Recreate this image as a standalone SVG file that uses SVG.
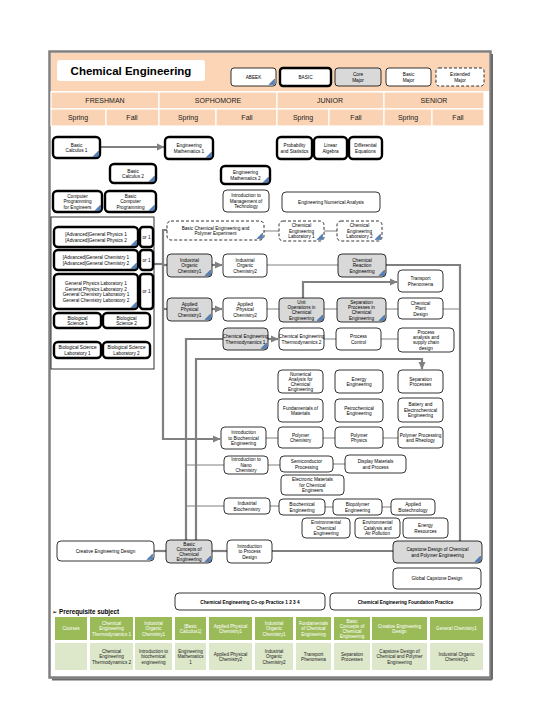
<svg xmlns="http://www.w3.org/2000/svg" width="540" height="720" viewBox="0 0 540 720">
<defs>
<style>
.b{fill:#fff;stroke:#000;stroke-width:2.4}
.n{fill:#fff;stroke:#000;stroke-width:0.8}
.c{fill:#D9D9D9;stroke:#000;stroke-width:0.8}
.e{fill:#fff;stroke:#000;stroke-width:0.8;stroke-dasharray:3 2}
.tri{fill:#4F81BD;stroke:#1F3F6F;stroke-width:0.4}
.t{font-family:"Liberation Sans",Arial,sans-serif;font-size:4.7px;text-anchor:middle;fill:#000}
.s{font-family:"Liberation Sans",Arial,sans-serif;font-size:7px;text-anchor:middle;fill:#222}
.tw{font-family:"Liberation Sans",Arial,sans-serif;font-size:4.6px;text-anchor:middle;fill:#fff}
.tk{font-family:"Liberation Sans",Arial,sans-serif;font-size:4.6px;text-anchor:middle;fill:#222}
.hc{fill:#FAD3B4;stroke:#fff;stroke-width:1.2}
.g1{fill:#9BBB59}
.g2{fill:#DDE7CA}
.thk{fill:none;stroke:#808080;stroke-width:2.2}
.thn{fill:none;stroke:#808080;stroke-width:1}
</style>
<marker id="ar" markerWidth="8" markerHeight="8" refX="7" refY="4" orient="auto" markerUnits="userSpaceOnUse">
<path d="M0,0.5 L7.5,4 L0,7.5 Z" fill="#808080"/>
</marker>
</defs>
<rect x="0" y="0" width="540" height="720" fill="#fff"/>
<!-- frame -->
<rect x="49.5" y="51.5" width="441" height="626" fill="#fff" stroke="#808080" stroke-width="2.5"/>
<line x1="492" y1="54" x2="492" y2="679.5" stroke="#6a6a6a" stroke-width="2"/>
<line x1="52" y1="679.5" x2="492" y2="679.5" stroke="#6a6a6a" stroke-width="2"/>
<!-- header -->
<g id="header">
<rect x="51" y="53" width="438" height="38" fill="#FBD5B5"/>
<rect x="57" y="60" width="148" height="21" rx="3" fill="#fff"/>
<text x="131" y="75" font-family="Liberation Sans, Arial, sans-serif" font-size="11.5" font-weight="bold" text-anchor="middle" fill="#000">Chemical Engineering</text>
<rect class="hc" x="51" y="92" width="108" height="17"/>
<rect class="hc" x="159" y="92" width="118" height="17"/>
<rect class="hc" x="277" y="92" width="107" height="17"/>
<rect class="hc" x="384" y="92" width="100" height="17"/>
<rect class="hc" x="51" y="109" width="55" height="17"/>
<rect class="hc" x="106" y="109" width="53" height="17"/>
<rect class="hc" x="159" y="109" width="57" height="17"/>
<rect class="hc" x="216" y="109" width="61" height="17"/>
<rect class="hc" x="277" y="109" width="52" height="17"/>
<rect class="hc" x="329" y="109" width="55" height="17"/>
<rect class="hc" x="384" y="109" width="48" height="17"/>
<rect class="hc" x="432" y="109" width="52" height="17"/>
<text class="s" x="105" y="103">FRESHMAN</text>
<text class="s" x="218" y="103">SOPHOMORE</text>
<text class="s" x="330" y="103">JUNIOR</text>
<text class="s" x="434" y="103">SENIOR</text>
<text class="s" x="78" y="120">Spring</text>
<text class="s" x="132" y="120">Fall</text>
<text class="s" x="188" y="120">Spring</text>
<text class="s" x="247" y="120">Fall</text>
<text class="s" x="303" y="120">Spring</text>
<text class="s" x="356" y="120">Fall</text>
<text class="s" x="408" y="120">Spring</text>
<text class="s" x="458" y="120">Fall</text>
</g>
<!-- legend -->
<g id="legend">
<g id="lg-abeek"><rect class="n" x="231" y="68" width="45" height="18" rx="3"/><polygon class="tri" points="274.5,79 274.5,84.5 269,84.5"/><text class="t" x="253.5" y="78.8">ABEEK</text></g>
<g id="lg-basic"><rect class="b" x="280" y="68" width="51" height="18" rx="3"/><text class="t" x="305.5" y="78.8">BASIC</text></g>
<g id="lg-core"><rect class="c" x="335" y="68" width="46" height="18" rx="3"/><text class="t" x="358" y="76"><tspan x="358">Core</tspan><tspan x="358" dy="5.6">Major</tspan></text></g>
<g id="lg-basicmajor"><rect class="n" x="386" y="68" width="45" height="18" rx="3"/><text class="t" x="408.5" y="76"><tspan x="408.5">Basic</tspan><tspan x="408.5" dy="5.6">Major</tspan></text></g>
<g id="lg-ext"><rect class="e" x="436" y="68" width="48" height="18" rx="3"/><text class="t" x="460" y="76"><tspan x="460">Extended</tspan><tspan x="460" dy="5.6">Major</tspan></text></g>
</g>
<!-- connectors -->
<g id="connectors">
<line class="thk" x1="100" y1="147" x2="164" y2="147" marker-end="url(#ar)"/>
<polyline class="thk" points="154,264 163,264"/>
<polyline class="thk" points="167,230 163,230 163,439 220,439" marker-end="url(#ar)"/>
<line class="thk" x1="163" y1="265" x2="167" y2="265"/>
<line class="thk" x1="163" y1="309" x2="167" y2="309"/>
<line class="thk" x1="212" y1="265" x2="222" y2="265" marker-end="url(#ar)"/>
<line class="thk" x1="212" y1="309" x2="222" y2="309" marker-end="url(#ar)"/>
<line class="thk" x1="268" y1="339" x2="278" y2="339" marker-end="url(#ar)"/>
<line class="thn" x1="264" y1="231" x2="279" y2="231"/>
<line class="thn" x1="324" y1="231" x2="337" y2="231"/>
<line class="thn" x1="267" y1="265" x2="338" y2="265"/>
<polyline class="thk" points="386,265 460,265 460,541"/>
<line class="thn" x1="267" y1="309" x2="279" y2="309"/>
<line class="thn" x1="324" y1="309" x2="337" y2="309"/>
<line class="thn" x1="386" y1="309" x2="398" y2="309"/>
<line class="thn" x1="443" y1="309" x2="460" y2="309"/>
<polyline class="thk" points="303,298 303,282 397,282" marker-end="url(#ar)"/>
<line class="thn" x1="324" y1="339" x2="336" y2="339"/>
<line class="thn" x1="381" y1="339" x2="398" y2="339"/>
<polyline class="thk" points="223,339 186,339 186,540"/>
<polyline class="thk" points="196,540 196,359 422,359 422,369" marker-end="url(#ar)"/>
<line class="thn" x1="186" y1="465" x2="224" y2="465"/>
<line class="thn" x1="186" y1="506" x2="224" y2="506"/>
<line class="thn" x1="266" y1="438" x2="278" y2="438"/>
<line class="thn" x1="323" y1="438" x2="335" y2="438"/>
<line class="thn" x1="383" y1="438" x2="398" y2="438"/>
<line class="thn" x1="268" y1="465" x2="280" y2="465"/>
<line class="thn" x1="333" y1="464" x2="345" y2="464"/>
<line class="thn" x1="270" y1="506" x2="279" y2="506"/>
<line class="thn" x1="325" y1="507" x2="333" y2="507"/>
<line class="thn" x1="382" y1="507" x2="391" y2="507"/>
<line class="thk" x1="154" y1="551" x2="166" y2="551"/>
<line class="thk" x1="212" y1="551" x2="227" y2="551"/>
<line class="thk" x1="272" y1="551" x2="393" y2="551"/>
</g>
<!-- nodes -->
<g id="calc1"><rect class="b" x="53" y="137" width="47" height="21" rx="4"/><polygon class="tri" points="98.5,151 98.5,156.5 93,156.5"/><text class="t" x="76.5" y="146.5"><tspan x="76.5">Basic</tspan><tspan x="76.5" dy="5.6">Calculus 1</tspan></text></g>
<g id="math1"><rect class="b" x="165" y="137" width="48" height="22" rx="4"/><polygon class="tri" points="211.5,152 211.5,157.5 206,157.5"/><text class="t" x="189" y="147"><tspan x="189">Engineering</tspan><tspan x="189" dy="5.6">Mathematics 1</tspan></text></g>
<g id="calc2"><rect class="b" x="110" y="164" width="46" height="19" rx="4"/><polygon class="tri" points="154.5,176 154.5,181.5 149,181.5"/><text class="t" x="133" y="172.5"><tspan x="133">Basic</tspan><tspan x="133" dy="5.6">Calculus 2</tspan></text></g>
<g id="math2"><rect class="b" x="221" y="166" width="49" height="18" rx="4"/><polygon class="tri" points="268.5,177 268.5,182.5 263,182.5"/><text class="t" x="245.5" y="174"><tspan x="245.5">Engineering</tspan><tspan x="245.5" dy="5.6">Mathematics 2</tspan></text></g>
<g id="prog"><rect class="b" x="53" y="191" width="49" height="21" rx="4"/><polygon class="tri" points="100.5,205 100.5,210.5 95,210.5"/><text class="t" x="77.5" y="197.7"><tspan x="77.5">Computer</tspan><tspan x="77.5" dy="5.6">Programming</tspan><tspan x="77.5" dy="5.6">for Engineers</tspan></text></g>
<g id="prog2"><rect class="b" x="105" y="191" width="51" height="21" rx="4"/><polygon class="tri" points="154.5,205 154.5,210.5 149,210.5"/><text class="t" x="130.5" y="197.7"><tspan x="130.5">Basic</tspan><tspan x="130.5" dy="5.6">Computer</tspan><tspan x="130.5" dy="5.6">Programming</tspan></text></g>
<g id="mot"><rect class="n" x="223" y="190" width="46" height="22" rx="4"/><text class="t" x="246" y="197.2"><tspan x="246">Introduction to</tspan><tspan x="246" dy="5.6">Management of</tspan><tspan x="246" dy="5.6">Technology</tspan></text></g>
<g id="prob"><rect class="b" x="277" y="137" width="35" height="22" rx="4"/><text class="t" x="294.5" y="147" font-size="4.3"><tspan x="294.5">Probability</tspan><tspan x="294.5" dy="5.6">and Statistics</tspan></text></g>
<g id="linalg"><rect class="b" x="314" y="137" width="33" height="22" rx="4"/><text class="t" x="330.5" y="147" font-size="4.3"><tspan x="330.5">Linear</tspan><tspan x="330.5" dy="5.6">Algebra</tspan></text></g>
<g id="diffeq"><rect class="b" x="349" y="137" width="33" height="22" rx="4"/><text class="t" x="365.5" y="147" font-size="4.3"><tspan x="365.5">Differential</tspan><tspan x="365.5" dy="5.6">Equations</tspan></text></g>
<g id="ena"><rect class="n" x="282" y="192" width="98" height="20" rx="4"/><text class="t" x="331" y="203.8">Engineering Numerical Analysis</text></g>
<g id="basics"><rect x="51" y="217" width="103" height="152" fill="#fff" stroke="#000" stroke-width="0.8"/></g>
<g id="phys"><rect class="b" x="54" y="227" width="84" height="20" rx="4"/><polygon class="tri" points="136.5,240 136.5,245.5 131,245.5"/><text class="t" x="96" y="236"><tspan x="96">[Advanced]General Physics 1</tspan><tspan x="96" dy="5.6">[Advanced]General Physics 2</tspan></text></g>
<g id="or1a"><rect class="b" x="140" y="227" width="13" height="20" rx="3"/><text class="t" x="146.5" y="238.8">or 1</text></g>
<g id="chem"><rect class="b" x="54" y="250" width="84" height="20" rx="4"/><polygon class="tri" points="136.5,263 136.5,268.5 131,268.5"/><text class="t" x="96" y="259"><tspan x="96">[Advanced]General Chemistry 1</tspan><tspan x="96" dy="5.6">[Advanced]General Chemistry 2</tspan></text></g>
<g id="or1b"><rect class="b" x="140" y="250" width="13" height="20" rx="3"/><text class="t" x="146.5" y="261.8">or 1</text></g>
<g id="lab"><rect class="b" x="54" y="274" width="84" height="35" rx="4"/><polygon class="tri" points="136.5,302 136.5,307.5 131,307.5"/><text class="t" x="96" y="284.9"><tspan x="96">General Physics Laboratory 1</tspan><tspan x="96" dy="5.6">General Physics Laboratory 2</tspan><tspan x="96" dy="5.6">General Chemistry Laboratory 1</tspan><tspan x="96" dy="5.6">General Chemistry Laboratory 2</tspan></text></g>
<g id="or1c"><rect class="b" x="140" y="274" width="13" height="35" rx="3"/><text class="t" x="146.5" y="293.3">or 1</text></g>
<g id="bio1"><rect class="b" x="54" y="313" width="47" height="15" rx="4"/><text class="t" x="77.5" y="319.5"><tspan x="77.5">Biological</tspan><tspan x="77.5" dy="5.6">Science 1</tspan></text></g>
<g id="bio2"><rect class="b" x="103" y="313" width="47" height="15" rx="4"/><text class="t" x="126.5" y="319.5"><tspan x="126.5">Biological</tspan><tspan x="126.5" dy="5.6">Science 2</tspan></text></g>
<g id="biolab1"><rect class="b" x="54" y="342" width="47" height="16" rx="4"/><text class="t" x="77.5" y="349"><tspan x="77.5">Biological Science</tspan><tspan x="77.5" dy="5.6">Laboratory 1</tspan></text></g>
<g id="biolab2"><rect class="b" x="103" y="342" width="47" height="16" rx="4"/><text class="t" x="126.5" y="349"><tspan x="126.5">Biological Science</tspan><tspan x="126.5" dy="5.6">Laboratory 2</tspan></text></g>
<g id="bce"><rect class="e" x="167" y="221" width="97" height="19" rx="4"/><polygon class="tri" points="262.5,233 262.5,238.5 257,238.5"/><text class="t" x="215.5" y="229.5"><tspan x="215.5">Basic Chemical Engineering and</tspan><tspan x="215.5" dy="5.6">Polymer Experiment</tspan></text></g>
<g id="lab1"><rect class="e" x="279" y="221" width="45" height="20" rx="4"/><polygon class="tri" points="322.5,234 322.5,239.5 317,239.5"/><text class="t" x="301.5" y="227.2"><tspan x="301.5">Chemical</tspan><tspan x="301.5" dy="5.6">Engineering</tspan><tspan x="301.5" dy="5.6">Laboratory 1</tspan></text></g>
<g id="lab2"><rect class="e" x="337" y="221" width="45" height="20" rx="4"/><polygon class="tri" points="380.5,234 380.5,239.5 375,239.5"/><text class="t" x="359.5" y="227.2"><tspan x="359.5">Chemical</tspan><tspan x="359.5" dy="5.6">Engineering</tspan><tspan x="359.5" dy="5.6">Laboratory 2</tspan></text></g>
<g id="ioc1"><rect class="c" x="167" y="254" width="45" height="23" rx="4"/><polygon class="tri" points="210.5,270 210.5,275.5 205,275.5"/><text class="t" x="189.5" y="261.7"><tspan x="189.5">Industrial</tspan><tspan x="189.5" dy="5.6">Organic</tspan><tspan x="189.5" dy="5.6">Chemistry1</tspan></text></g>
<g id="ioc2"><rect class="n" x="223" y="254" width="44" height="23" rx="4"/><text class="t" x="245" y="261.7"><tspan x="245">Industrial</tspan><tspan x="245" dy="5.6">Organic</tspan><tspan x="245" dy="5.6">Chemistry2</tspan></text></g>
<g id="apc1"><rect class="c" x="167" y="298" width="45" height="23" rx="4"/><polygon class="tri" points="210.5,314 210.5,319.5 205,319.5"/><text class="t" x="189.5" y="305.7"><tspan x="189.5">Applied</tspan><tspan x="189.5" dy="5.6">Physical</tspan><tspan x="189.5" dy="5.6">Chemistry1</tspan></text></g>
<g id="apc2"><rect class="n" x="223" y="298" width="44" height="23" rx="4"/><text class="t" x="245" y="305.7"><tspan x="245">Applied</tspan><tspan x="245" dy="5.6">Physical</tspan><tspan x="245" dy="5.6">Chemistry2</tspan></text></g>
<g id="thermo1"><rect class="c" x="223" y="328" width="45" height="22" rx="4"/><polygon class="tri" points="266.5,343 266.5,348.5 261,348.5"/><text class="t" x="245.5" y="338" font-size="4.3"><tspan x="245.5">Chemical Engineering</tspan><tspan x="245.5" dy="5.6">Thermodynamics 1</tspan></text></g>
<g id="thermo2"><rect class="n" x="279" y="328" width="45" height="22" rx="4"/><text class="t" x="301.5" y="338" font-size="4.3"><tspan x="301.5">Chemical Engineering</tspan><tspan x="301.5" dy="5.6">Thermodynamics 2</tspan></text></g>
<g id="pc"><rect class="n" x="336" y="328" width="45" height="22" rx="4"/><text class="t" x="358.5" y="338"><tspan x="358.5">Process</tspan><tspan x="358.5" dy="5.6">Control</tspan></text></g>
<g id="pasc"><rect class="n" x="398" y="328" width="56" height="24" rx="4"/><text class="t" x="426" y="334.2"><tspan x="426">Process</tspan><tspan x="426" dy="5.1">analysis and</tspan><tspan x="426" dy="5.1">supply chain</tspan><tspan x="426" dy="5.1">design</tspan></text></g>
<g id="cre"><rect class="c" x="338" y="254" width="48" height="23" rx="4"/><polygon class="tri" points="384.5,270 384.5,275.5 379,275.5"/><text class="t" x="362" y="261.7"><tspan x="362">Chemical</tspan><tspan x="362" dy="5.6">Reaction</tspan><tspan x="362" dy="5.6">Engineering</tspan></text></g>
<g id="tp"><rect class="n" x="398" y="270" width="45" height="22" rx="4"/><text class="t" x="420.5" y="280"><tspan x="420.5">Transport</tspan><tspan x="420.5" dy="5.6">Phenomena</tspan></text></g>
<g id="uo"><rect class="c" x="279" y="298" width="45" height="24" rx="4"/><polygon class="tri" points="322.5,315 322.5,320.5 317,320.5"/><text class="t" x="301.5" y="304.2"><tspan x="301.5">Unit</tspan><tspan x="301.5" dy="5.1">Operations in</tspan><tspan x="301.5" dy="5.1">Chemical</tspan><tspan x="301.5" dy="5.1">Engineering</tspan></text></g>
<g id="sp"><rect class="c" x="337" y="298" width="49" height="24" rx="4"/><polygon class="tri" points="384.5,315 384.5,320.5 379,320.5"/><text class="t" x="361.5" y="304.2"><tspan x="361.5">Separation</tspan><tspan x="361.5" dy="5.1">Processes in</tspan><tspan x="361.5" dy="5.1">Chemical</tspan><tspan x="361.5" dy="5.1">Engineering</tspan></text></g>
<g id="cpd"><rect class="n" x="398" y="298" width="45" height="21" rx="4"/><text class="t" x="420.5" y="304.7"><tspan x="420.5">Chemical</tspan><tspan x="420.5" dy="5.6">Plant</tspan><tspan x="420.5" dy="5.6">Design</tspan></text></g>
<g id="nace"><rect class="n" x="278" y="370" width="45" height="23" rx="4"/><text class="t" x="300.5" y="375.7"><tspan x="300.5">Numerical</tspan><tspan x="300.5" dy="5.1">Analysis for</tspan><tspan x="300.5" dy="5.1">Chemical</tspan><tspan x="300.5" dy="5.1">Engineering</tspan></text></g>
<g id="ee"><rect class="n" x="335" y="370" width="48" height="23" rx="4"/><text class="t" x="359" y="380.5"><tspan x="359">Energy</tspan><tspan x="359" dy="5.6">Engineering</tspan></text></g>
<g id="sep"><rect class="n" x="398" y="370" width="45" height="23" rx="4"/><text class="t" x="420.5" y="380.5"><tspan x="420.5">Separation</tspan><tspan x="420.5" dy="5.6">Processes</tspan></text></g>
<g id="mat"><rect class="n" x="278" y="399" width="45" height="23" rx="4"/><text class="t" x="300.5" y="409.5"><tspan x="300.5">Fundamentals of</tspan><tspan x="300.5" dy="5.6">Materials</tspan></text></g>
<g id="petro"><rect class="n" x="335" y="399" width="48" height="23" rx="4"/><text class="t" x="359" y="409.5"><tspan x="359">Petrochemical</tspan><tspan x="359" dy="5.6">Engineering</tspan></text></g>
<g id="batt"><rect class="n" x="398" y="398" width="45" height="24" rx="4"/><text class="t" x="420.5" y="406.2"><tspan x="420.5">Battery and</tspan><tspan x="420.5" dy="5.6">Electrochemical</tspan><tspan x="420.5" dy="5.6">Engineering</tspan></text></g>
<g id="pchem"><rect class="n" x="278" y="427" width="45" height="21" rx="4"/><text class="t" x="300.5" y="436.5"><tspan x="300.5">Polymer</tspan><tspan x="300.5" dy="5.6">Chemistry</tspan></text></g>
<g id="pphys"><rect class="n" x="335" y="427" width="48" height="21" rx="4"/><text class="t" x="359" y="436.5"><tspan x="359">Polymer</tspan><tspan x="359" dy="5.6">Physics</tspan></text></g>
<g id="ppr"><rect class="n" x="398" y="427" width="45" height="21" rx="4"/><text class="t" x="420.5" y="436.5" font-size="4.3"><tspan x="420.5">Polymer Processing</tspan><tspan x="420.5" dy="5.6">and Rheology</tspan></text></g>
<g id="semi"><rect class="n" x="280" y="456" width="53" height="16" rx="4"/><text class="t" x="306.5" y="463"><tspan x="306.5">Semiconductor</tspan><tspan x="306.5" dy="5.6">Processing</tspan></text></g>
<g id="disp"><rect class="n" x="345" y="455" width="61" height="18" rx="4"/><text class="t" x="375.5" y="463"><tspan x="375.5">Display Materials</tspan><tspan x="375.5" dy="5.6">and Process</tspan></text></g>
<g id="elec"><rect class="n" x="281" y="475" width="63" height="20" rx="4"/><text class="t" x="312.5" y="481.2"><tspan x="312.5">Electronic Materials</tspan><tspan x="312.5" dy="5.6">for Chemical</tspan><tspan x="312.5" dy="5.6">Engineers</tspan></text></g>
<g id="ibe"><rect class="n" x="221" y="427" width="45" height="22" rx="4"/><text class="t" x="243.5" y="434.2"><tspan x="243.5">Introduction</tspan><tspan x="243.5" dy="5.6">to Biochemical</tspan><tspan x="243.5" dy="5.6">Engineering</tspan></text></g>
<g id="nano"><rect class="n" x="224" y="456" width="44" height="18" rx="4"/><text class="t" x="246" y="461.4"><tspan x="246">Introduction to</tspan><tspan x="246" dy="5.3">Nano</tspan><tspan x="246" dy="5.3">Chemistry</tspan></text></g>
<g id="ib"><rect class="n" x="224" y="498" width="46" height="16" rx="4"/><text class="t" x="247" y="505"><tspan x="247">Industrial</tspan><tspan x="247" dy="5.6">Biochemistry</tspan></text></g>
<g id="bioeng"><rect class="n" x="279" y="499" width="46" height="16" rx="4"/><text class="t" x="302" y="506"><tspan x="302">Biochemical</tspan><tspan x="302" dy="5.6">Engineering</tspan></text></g>
<g id="biopoly"><rect class="n" x="333" y="499" width="49" height="16" rx="4"/><text class="t" x="357.5" y="506"><tspan x="357.5">Biopolymer</tspan><tspan x="357.5" dy="5.6">Engineering</tspan></text></g>
<g id="abt"><rect class="n" x="391" y="499" width="44" height="16" rx="4"/><text class="t" x="413" y="506"><tspan x="413">Applied</tspan><tspan x="413" dy="5.6">Biotechnology</tspan></text></g>
<g id="env"><rect class="n" x="302" y="518" width="48" height="20" rx="4"/><text class="t" x="326" y="524.2"><tspan x="326">Environmental</tspan><tspan x="326" dy="5.6">Chemical</tspan><tspan x="326" dy="5.6">Engineering</tspan></text></g>
<g id="env2"><rect class="n" x="355" y="518" width="45" height="20" rx="4"/><text class="t" x="377.5" y="524.2" font-size="4.3"><tspan x="377.5">Environmental</tspan><tspan x="377.5" dy="5.6">Catalysis and</tspan><tspan x="377.5" dy="5.6">Air Pollution</tspan></text></g>
<g id="er"><rect class="n" x="403" y="518" width="45" height="20" rx="4"/><text class="t" x="425.5" y="527"><tspan x="425.5">Energy</tspan><tspan x="425.5" dy="5.6">Resources</tspan></text></g>
<g id="ced"><rect class="n" x="57" y="541" width="97" height="20" rx="4"/><polygon class="tri" points="152.5,554 152.5,559.5 147,559.5"/><text class="t" x="105.5" y="552.8">Creative Engineering Design</text></g>
<g id="bcce"><rect class="c" x="166" y="540" width="46" height="23" rx="4"/><polygon class="tri" points="210.5,556 210.5,561.5 205,561.5"/><text class="t" x="189" y="545.7"><tspan x="189">Basic</tspan><tspan x="189" dy="5.1">Concepts of</tspan><tspan x="189" dy="5.1">Chemical</tspan><tspan x="189" dy="5.1">Engineering</tspan></text></g>
<g id="ipd"><rect class="n" x="227" y="540" width="45" height="23" rx="4"/><text class="t" x="249.5" y="547.7"><tspan x="249.5">Introduction</tspan><tspan x="249.5" dy="5.6">to Process</tspan><tspan x="249.5" dy="5.6">Design</tspan></text></g>
<g id="cap"><rect class="c" x="393" y="541" width="89" height="22" rx="4"/><polygon class="tri" points="480.5,556 480.5,561.5 475,561.5"/><text class="t" x="437.5" y="551"><tspan x="437.5">Capstone Design of Chemical</tspan><tspan x="437.5" dy="5.6">and Polymer Engineering</tspan></text></g>
<g id="gcd"><rect class="n" x="393" y="568" width="88" height="21" rx="4"/><text class="t" x="437" y="580.3">Global Capstone Design</text></g>
<g id="coop"><rect class="n" x="175" y="593" width="150" height="17" rx="4"/><text class="t" x="250" y="603.6" font-size="5.8" font-weight="bold">Chemical Engineering Co-op Practice 1 2 3 4</text></g>
<g id="found"><rect class="n" x="330" y="593" width="151" height="17" rx="4"/><text class="t" x="405.5" y="603.6" font-size="5.8" font-weight="bold">Chemical Engineering Foundation Practice</text></g>
<!-- prerequisite table -->
<g id="prereq">
<text x="52" y="614" font-family="Liberation Sans, DejaVu Sans, sans-serif" font-size="6.3" font-weight="bold" fill="#000">➢ Prerequisite subject</text>
<rect class="g1" x="55" y="617" width="32" height="23"/>
<rect class="g1" x="90" y="617" width="43" height="23"/>
<rect class="g1" x="135" y="617" width="37" height="23"/>
<rect class="g1" x="175" y="617" width="31" height="23"/>
<rect class="g1" x="209" y="617" width="43" height="23"/>
<rect class="g1" x="255" y="617" width="38" height="23"/>
<rect class="g1" x="296" y="617" width="35" height="23"/>
<rect class="g1" x="334" y="617" width="36" height="23"/>
<rect class="g1" x="372" y="617" width="55" height="23"/>
<rect class="g1" x="430" y="617" width="53" height="23"/>
<rect class="g2" x="55" y="643" width="32" height="27"/>
<rect class="g2" x="90" y="643" width="43" height="27"/>
<rect class="g2" x="135" y="643" width="37" height="27"/>
<rect class="g2" x="175" y="643" width="31" height="27"/>
<rect class="g2" x="209" y="643" width="43" height="27"/>
<rect class="g2" x="255" y="643" width="38" height="27"/>
<rect class="g2" x="296" y="643" width="35" height="27"/>
<rect class="g2" x="334" y="643" width="36" height="27"/>
<rect class="g2" x="372" y="643" width="55" height="27"/>
<rect class="g2" x="430" y="643" width="53" height="27"/>
<text class="tw" x="71" y="630.3">Courses</text>
<text class="tw" x="111.5" y="624.7"><tspan x="111.5">Chemical</tspan><tspan x="111.5" dy="5.6">Engineering</tspan><tspan x="111.5" dy="5.6">Thermodynamics 1</tspan></text>
<text class="tw" x="153.5" y="624.7"><tspan x="153.5">Industrial</tspan><tspan x="153.5" dy="5.6">Organic</tspan><tspan x="153.5" dy="5.6">Chemistry1</tspan></text>
<text class="tw" x="190.5" y="627.5"><tspan x="190.5">[Basic</tspan><tspan x="190.5" dy="5.6">Calculus1]</tspan></text>
<text class="tw" x="230.5" y="627.5"><tspan x="230.5">Applied Physical</tspan><tspan x="230.5" dy="5.6">Chemistry1</tspan></text>
<text class="tw" x="274" y="624.7"><tspan x="274">Industrial</tspan><tspan x="274" dy="5.6">Organic</tspan><tspan x="274" dy="5.6">Chemistry1</tspan></text>
<text class="tw" x="313.5" y="624.7"><tspan x="313.5">Fundamentals</tspan><tspan x="313.5" dy="5.6">of Chemical</tspan><tspan x="313.5" dy="5.6">Engineering</tspan></text>
<text class="tw" x="352" y="622.6"><tspan x="352">Basic</tspan><tspan x="352" dy="5.1">Concepts of</tspan><tspan x="352" dy="5.1">Chemical</tspan><tspan x="352" dy="5.1">Engineering</tspan></text>
<text class="tw" x="399.5" y="627.5"><tspan x="399.5">Creative Engineering</tspan><tspan x="399.5" dy="5.6">Design</tspan></text>
<text class="tw" x="456.5" y="630.3">General Chemistry1</text>
<text class="tk" x="111.5" y="652.7"><tspan x="111.5">Chemical</tspan><tspan x="111.5" dy="5.6">Engineering</tspan><tspan x="111.5" dy="5.6">Thermodynamics 2</tspan></text>
<text class="tk" x="153.5" y="652.7"><tspan x="153.5">Introduction to</tspan><tspan x="153.5" dy="5.6">biochemical</tspan><tspan x="153.5" dy="5.6">engineering</tspan></text>
<text class="tk" x="190.5" y="652.7"><tspan x="190.5">Engineering</tspan><tspan x="190.5" dy="5.6">Mathematics</tspan><tspan x="190.5" dy="5.6">1</tspan></text>
<text class="tk" x="230.5" y="655.5"><tspan x="230.5">Applied Physical</tspan><tspan x="230.5" dy="5.6">Chemistry2</tspan></text>
<text class="tk" x="274" y="652.7"><tspan x="274">Industrial</tspan><tspan x="274" dy="5.6">Organic</tspan><tspan x="274" dy="5.6">Chemistry2</tspan></text>
<text class="tk" x="313.5" y="655.5"><tspan x="313.5">Transport</tspan><tspan x="313.5" dy="5.6">Phenomena</tspan></text>
<text class="tk" x="352" y="655.5"><tspan x="352">Separation</tspan><tspan x="352" dy="5.6">Processes</tspan></text>
<text class="tk" x="399.5" y="652.7"><tspan x="399.5">Capstone Design of</tspan><tspan x="399.5" dy="5.6">Chemical and Polymer</tspan><tspan x="399.5" dy="5.6">Engineering</tspan></text>
<text class="tk" x="456.5" y="655.5"><tspan x="456.5">Industrial Organic</tspan><tspan x="456.5" dy="5.6">Chemistry1</tspan></text>
</g>
</svg>
